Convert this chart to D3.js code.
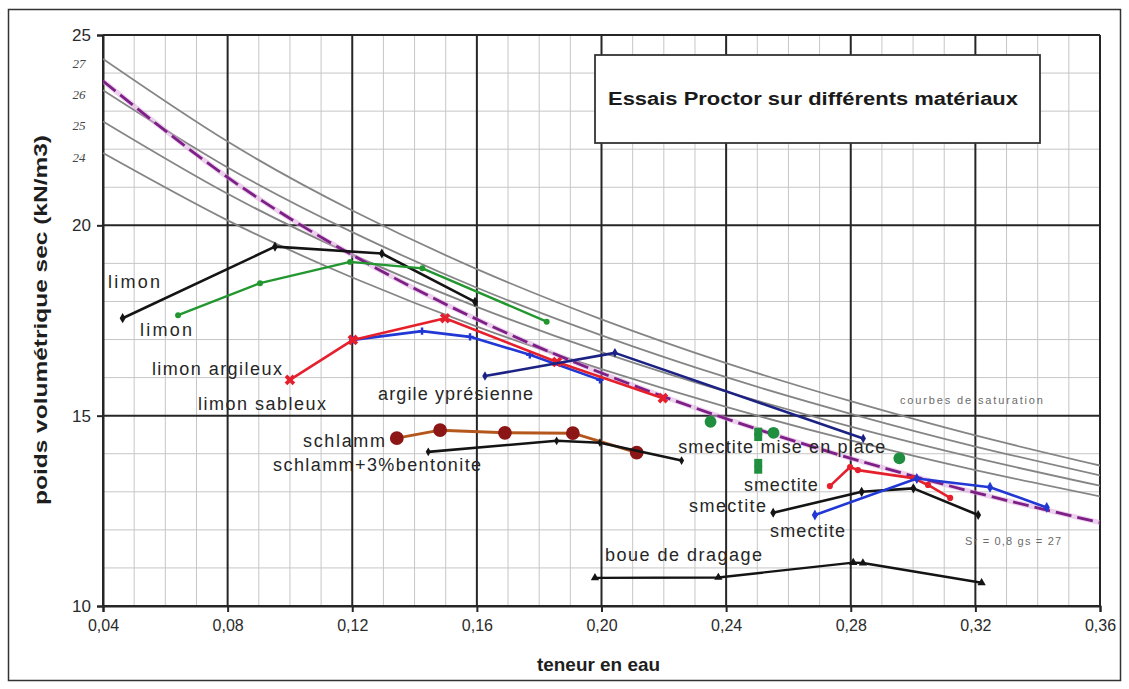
<!DOCTYPE html>
<html>
<head>
<meta charset="utf-8">
<script src="https://cdn.jsdelivr.net/npm/d3@7"></script>
<style>
  body { margin: 0; background: #fff; }
  text { font-family: "Liberation Sans", Arial, sans-serif; }
</style>
</head>
<body>
<svg id="chart" width="1129" height="689"></svg>
<script>
// ---- Saturation curves (dry unit weight, kN/m3) sampled at these water contents ----
const saturationW = [0.04, 0.08, 0.12, 0.16, 0.20, 0.24, 0.28, 0.32, 0.36];
const saturationGs27 = [24.37, 22.20, 20.39, 18.85, 17.53, 16.38, 15.38, 14.48, 13.69];
const saturationGs26 = [23.55, 21.52, 19.82, 18.36, 17.11, 16.01, 15.05, 14.19, 13.43];
const saturationGs25 = [22.73, 20.83, 19.23, 17.86, 16.67, 15.63, 14.71, 13.89, 13.16];
const saturationGs24 = [21.90, 20.13, 18.63, 17.34, 16.22, 15.23, 14.35, 13.57, 12.88];
const saturationSr08 = [23.79, 21.26, 19.22, 17.53, 16.12, 14.92, 13.88, 12.98, 12.19];
const saturationLabels = ["27", "26", "25", "24"];

// ---- Proctor tests: [water content, dry unit weight] ----
const limonBlack = [[0.0463, 17.56], [0.0952, 19.44], [0.1295, 19.26], [0.1594, 17.99]];
const limonGreen = [[0.0641, 17.64], [0.0904, 18.48], [0.1193, 19.04], [0.1425, 18.87], [0.1824, 17.47]];
const limonArgileux = [[0.1000, 15.94], [0.1202, 16.99], [0.1498, 17.56], [0.1857, 16.41], [0.2197, 15.46]];
const limonSableux = [[0.1202, 16.99], [0.1424, 17.22], [0.1578, 17.07], [0.1770, 16.60], [0.1995, 15.94]];
const argileYpresienne = [[0.1626, 16.04], [0.2043, 16.65], [0.2840, 14.40]];
const schlamm = [[0.1343, 14.41], [0.1482, 14.62], [0.1690, 14.55], [0.1908, 14.54], [0.2113, 14.03]];
const schlammBentonite = [[0.1444, 14.05], [0.1856, 14.34], [0.1995, 14.29], [0.2257, 13.82]];
const smectiteEnPlaceDots = [[0.2350, 14.84], [0.2552, 14.55], [0.2956, 13.88]];
const smectiteEnPlaceSquares = [[0.2503, 14.58], [0.2503, 14.44], [0.2503, 13.76], [0.2503, 13.58]];
const smectiteRed = [[0.2733, 13.15], [0.2798, 13.65], [0.2823, 13.57], [0.3000, 13.36], [0.3048, 13.18], [0.3119, 12.84]];
const smectiteBlack = [[0.2551, 12.45], [0.2835, 13.00], [0.3001, 13.09], [0.3209, 12.39]];
const smectiteBlue = [[0.2685, 12.39], [0.3012, 13.35], [0.3247, 13.12], [0.3429, 12.59]];
const boueDragage = [[0.1979, 10.74], [0.2375, 10.75], [0.2808, 11.14], [0.2839, 11.13], [0.3220, 10.61]];

// ---- Axis ticks and texts ----
const xTickValues = [0.04, 0.08, 0.12, 0.16, 0.20, 0.24, 0.28, 0.32, 0.36];
const yTickValues = [10, 15, 20, 25];
const chartTitle = "Essais Proctor sur différents matériaux";
const xTitle = "teneur en eau";
const yTitle = "poids volumétrique sec (kN/m3)";

// Series labels, anchored in data units (start of text, baseline)
const seriesLabels = [
  { text: "limon", w: 0.0416, v: 18.35, len: 52 },
  { text: "limon", w: 0.0519, v: 17.09, len: 52 },
  { text: "limon argileux", w: 0.0557, v: 16.07, len: 130 },
  { text: "limon sableux", w: 0.0705, v: 15.15, len: 128 },
  { text: "argile yprésienne", w: 0.1283, v: 15.41, len: 155 },
  { text: "schlamm", w: 0.1042, v: 14.18, len: 82 },
  { text: "schlamm+3%bentonite", w: 0.0946, v: 13.55, len: 208 },
  { text: "smectite mise en place", w: 0.2246, v: 14.02, len: 207 },
  { text: "smectite", w: 0.2457, v: 13.02, len: 74 },
  { text: "smectite", w: 0.2281, v: 12.47, len: 77 },
  { text: "smectite", w: 0.2541, v: 11.81, len: 75 },
  { text: "boue de dragage", w: 0.2011, v: 11.18, len: 157 }
];
const smallNotes = [
  { text: "courbes de saturation", w: 0.2958, v: 15.31, len: 143 },
  { text: "Sr = 0,8   gs = 27", w: 0.3167, v: 11.60, len: 96 }
];

// ---------------------------------------------------------------------------
const svg = d3.select("#chart");
const plot = { left: 103, right: 1100, top: 35, bottom: 606 };

const x = d3.scaleLinear().domain([0.04, 0.36]).range([plot.left, plot.right]);
const y = d3.scaleLinear().domain([10, 25]).range([plot.bottom, plot.top]);

svg.append("rect").attr("width", 1129).attr("height", 689).attr("fill", "#fff");
// outer frame
svg.append("rect").attr("x", 8.5).attr("y", 9.5).attr("width", 1112).attr("height", 671)
  .attr("fill", "none").attr("stroke", "#333").attr("stroke-width", 1.5);

// ---- grid ----
const minorX = d3.range(0.04, 0.3601, 0.01).map(v => +v.toFixed(2))
  .filter(v => !xTickValues.some(t => Math.abs(t - v) < 1e-6));
const minorY = d3.range(10, 25.01, 1).filter(v => !yTickValues.includes(v));

const grid = svg.append("g");
grid.selectAll(".mx").data(minorX).join("line")
  .attr("x1", d => x(d)).attr("x2", d => x(d))
  .attr("y1", plot.top).attr("y2", plot.bottom)
  .attr("stroke", "#c6c6c6").attr("stroke-width", 1);
grid.selectAll(".my").data(minorY).join("line")
  .attr("x1", plot.left).attr("x2", plot.right)
  .attr("y1", d => y(d)).attr("y2", d => y(d))
  .attr("stroke", "#c6c6c6").attr("stroke-width", 1);
grid.selectAll(".Mx").data(xTickValues).join("line")
  .attr("x1", d => x(d)).attr("x2", d => x(d))
  .attr("y1", plot.top).attr("y2", plot.bottom)
  .attr("stroke", "#262626").attr("stroke-width", 2);
grid.selectAll(".My").data(yTickValues).join("line")
  .attr("x1", plot.left).attr("x2", plot.right)
  .attr("y1", d => y(d)).attr("y2", d => y(d))
  .attr("stroke", "#262626").attr("stroke-width", 2);

// ---- axes ----
const fmtX = d => d3.format(".2f")(d).replace(".", ",");
const xAxis = svg.append("g").attr("transform", `translate(0,${plot.bottom})`)
  .call(d3.axisBottom(x).tickValues(xTickValues).tickFormat(fmtX).tickSize(6).tickPadding(8));
const yAxis = svg.append("g").attr("transform", `translate(${plot.left},0)`)
  .call(d3.axisLeft(y).tickValues(yTickValues).tickFormat(d3.format("d")).tickSize(6).tickPadding(6));
[xAxis, yAxis].forEach(a => {
  a.select(".domain").attr("stroke", "#262626").attr("stroke-width", 2);
  a.selectAll(".tick line").attr("stroke", "#262626").attr("stroke-width", 2);
  a.selectAll(".tick text").attr("fill", "#2a2a2a")
    .style("font-family", '"Liberation Sans", Arial, sans-serif');
});
xAxis.selectAll(".tick text").style("font-size", "16px");
yAxis.selectAll(".tick text").style("font-size", "17px");

svg.append("text").attr("x", (plot.left + plot.right) / 2 - 3).attr("y", 671)
  .attr("text-anchor", "middle").attr("font-weight", "bold").attr("font-size", 19)
  .attr("fill", "#1e1e1e").attr("textLength", 123).attr("lengthAdjust", "spacingAndGlyphs")
  .text(xTitle);
svg.append("text").attr("transform", "translate(47,320) rotate(-90)")
  .attr("text-anchor", "middle").attr("font-weight", "bold").attr("font-size", 19)
  .attr("fill", "#1e1e1e").attr("textLength", 370).attr("lengthAdjust", "spacingAndGlyphs")
  .text(yTitle);

// ---- saturation curves ----
svg.append("clipPath").attr("id", "plotClip").append("rect")
  .attr("x", plot.left).attr("y", plot.top)
  .attr("width", plot.right - plot.left).attr("height", plot.bottom - plot.top);

const curveLine = d3.line().x(d => x(d[0])).y(d => y(d[1])).curve(d3.curveNatural);
const zipW = vals => saturationW.map((w, i) => [w, vals[i]]);

const satGroup = svg.append("g").attr("clip-path", "url(#plotClip)");
const grayCurves = [saturationGs27, saturationGs26, saturationGs25, saturationGs24];
satGroup.selectAll(".sat").data(grayCurves).join("path")
  .attr("d", d => curveLine(zipW(d)))
  .attr("fill", "none").attr("stroke", "#858585").attr("stroke-width", 1.8);
satGroup.append("path").attr("d", curveLine(zipW(saturationSr08)))
  .attr("fill", "none").attr("stroke", "#d9a3dc").attr("stroke-width", 5).attr("opacity", 0.5);
satGroup.append("path").attr("d", curveLine(zipW(saturationSr08)))
  .attr("fill", "none").attr("stroke", "#7d1f86").attr("stroke-width", 2.8)
  .attr("stroke-dasharray", "16,6");

// gs labels at curve starts
svg.selectAll(".gsLabel").data(grayCurves).join("text")
  .attr("x", 79).attr("y", d => y(d[0]) + 9)
  .attr("text-anchor", "middle").attr("font-size", 13).attr("font-style", "italic")
  .style("font-family", '"Liberation Serif", "DejaVu Serif", serif')
  .attr("fill", "#444")
  .text((d, i) => saturationLabels[i]);

// ---- test series ----
const line = d3.line().x(d => x(d[0])).y(d => y(d[1]));
const series = [
  { pts: limonBlack, color: "#141414", width: 2.6, sym: d3.symbolDiamond, size: 30 },
  { pts: limonGreen, color: "#22962f", width: 2.4, sym: d3.symbolCircle, size: 28 },
  { pts: limonSableux, color: "#2138d4", width: 2.6, sym: d3.symbolCross, size: 30 },
  { pts: limonArgileux, color: "#e5202c", width: 2.6, sym: d3.symbolCross, size: 70, rotate: 45 },
  { pts: argileYpresienne, color: "#1c2283", width: 2.6, sym: d3.symbolDiamond, size: 26 },
  { pts: schlamm, color: "#b4571d", width: 3, sym: d3.symbolCircle, size: 150, fill: "#8c1515" },
  { pts: schlammBentonite, color: "#141414", width: 2.6, sym: d3.symbolDiamond, size: 22 },
  { pts: smectiteRed, color: "#e5202c", width: 2.6, sym: d3.symbolCircle, size: 30 },
  { pts: smectiteBlack, color: "#141414", width: 2.6, sym: d3.symbolDiamond, size: 30 },
  { pts: smectiteBlue, color: "#2138d4", width: 2.6, sym: d3.symbolDiamond, size: 34 },
  { pts: boueDragage, color: "#141414", width: 2.4, sym: d3.symbolTriangle, size: 30 }
];

const dataGroup = svg.append("g");
series.forEach(s => {
  dataGroup.append("path").attr("d", line(s.pts))
    .attr("fill", "none").attr("stroke", s.color).attr("stroke-width", s.width)
    .attr("stroke-linejoin", "round");
  dataGroup.selectAll(null).data(s.pts).join("path")
    .attr("transform", d => `translate(${x(d[0])},${y(d[1])}) rotate(${s.rotate || 0})`)
    .attr("d", d3.symbol().type(s.sym).size(s.size))
    .attr("fill", s.fill || s.color);
});

// smectite "mise en place" (points only)
dataGroup.selectAll(".seSq").data(smectiteEnPlaceSquares).join("path")
  .attr("transform", d => `translate(${x(d[0])},${y(d[1])})`)
  .attr("d", d3.symbol().type(d3.symbolSquare).size(64))
  .attr("fill", "#1f8f3f");
dataGroup.selectAll(".seDot").data(smectiteEnPlaceDots).join("path")
  .attr("transform", d => `translate(${x(d[0])},${y(d[1])})`)
  .attr("d", d3.symbol().type(d3.symbolCircle).size(110))
  .attr("fill", "#1f8f3f");

// ---- series labels ----
svg.append("g").selectAll("text").data(seriesLabels).join("text")
  .attr("x", d => x(d.w)).attr("y", d => y(d.v))
  .attr("font-size", 18).attr("fill", "#262626")
  .attr("textLength", d => d.len).attr("lengthAdjust", "spacing")
  .text(d => d.text);

svg.append("g").selectAll("text").data(smallNotes).join("text")
  .attr("x", d => x(d.w)).attr("y", d => y(d.v))
  .attr("font-size", 11).attr("fill", "#6b6b6b")
  .attr("textLength", d => d.len).attr("lengthAdjust", "spacing")
  .text(d => d.text);

// ---- title box ----
svg.append("rect").attr("x", 595).attr("y", 55).attr("width", 445).attr("height", 88)
  .attr("fill", "#fff").attr("stroke", "#333").attr("stroke-width", 1.8);
svg.append("text").attr("x", 608).attr("y", 105)
  .attr("font-size", 18).attr("font-weight", "bold").attr("fill", "#1a1a1a")
  .attr("textLength", 410).attr("lengthAdjust", "spacingAndGlyphs")
  .text(chartTitle);
</script>
</body>
</html>
